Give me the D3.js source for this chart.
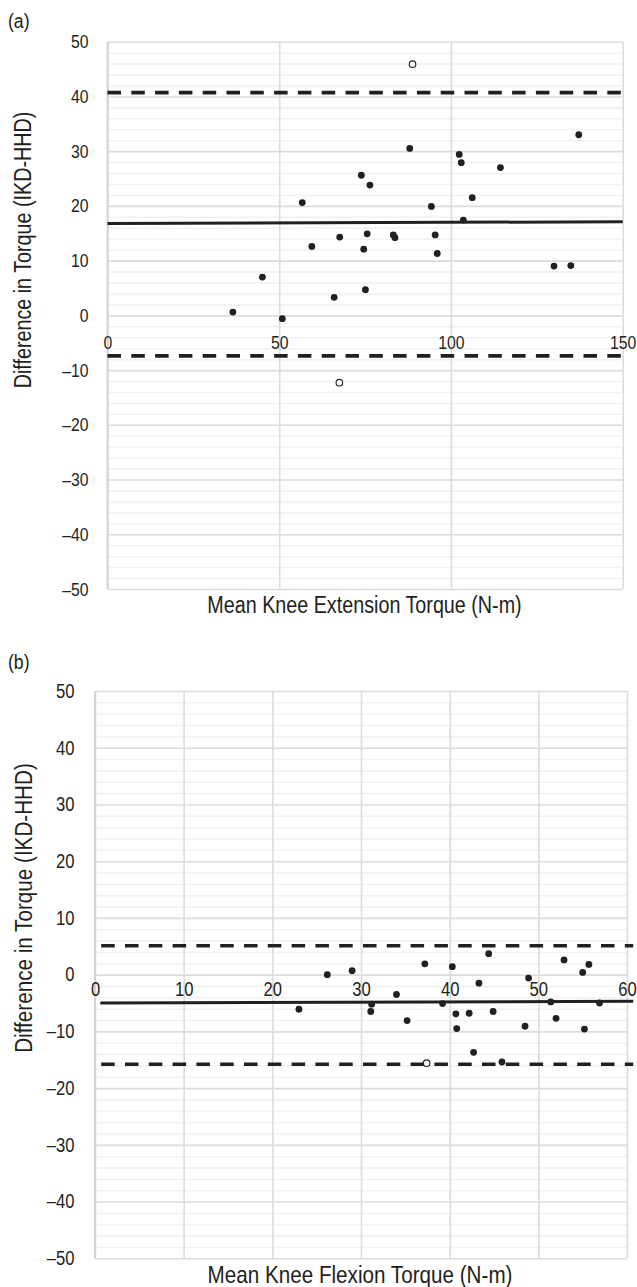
<!DOCTYPE html>
<html>
<head>
<meta charset="utf-8">
<script src="https://cdn.jsdelivr.net/npm/d3@7"></script>
<style>
body { margin: 0; background: #fff; }
</style>
</head>
<body>
<div id="chart"></div>
<script>
var W = 637, H = 1287;
var FONT = "'Liberation Sans', Arial, sans-serif";
var INK = "#231f20";
var NARROW = 0.84;   // the source uses a condensed face; squeeze a regular one

// shared y ticks (difference in torque)
var yTicks = [-50, -40, -30, -20, -10, 0, 10, 20, 30, 40, 50];

// (a) knee extension
var extMean = [36.5, 45.1, 50.9, 56.7, 59.5, 66.0, 67.6, 73.9, 74.6, 75.1, 75.6, 76.4, 83.2,
  83.7, 88.0, 94.3, 95.4, 96.0, 102.4, 103.0, 103.6, 106.2, 114.4, 130.0, 134.9, 137.2];
var extDiff = [0.6, 7.0, -0.6, 20.6, 12.6, 3.3, 14.3, 25.6, 12.1, 4.7, 14.9, 23.8, 14.7,
  14.2, 30.5, 19.9, 14.7, 11.3, 29.4, 27.9, 17.4, 21.5, 27.0, 9.0, 9.1, 33.0];
var extOutMean = [88.8, 67.5];
var extOutDiff = [45.9, -12.3];
var extBiasX = [0, 150];
var extBiasY = [16.8, 17.1];
var extLimits = [40.7, -7.4];
var extXTicks = [0, 50, 100, 150];

// (b) knee flexion
var flexMean = [23.0, 26.2, 29.0, 31.1, 31.2, 34.0, 35.2, 37.2, 39.2, 40.3, 40.7, 40.8, 42.2,
  42.7, 43.3, 44.4, 44.9, 45.9, 48.5, 48.9, 51.4, 52.0, 52.9, 55.0, 55.2, 55.7, 56.9];
var flexDiff = [-6.1, 0.0, 0.7, -6.5, -5.2, -3.5, -8.1, 1.9, -5.1, 1.4, -6.9, -9.5, -6.8,
  -13.7, -1.5, 3.7, -6.5, -15.4, -9.1, -0.6, -4.8, -7.7, 2.6, 0.4, -9.6, 1.8, -5.0];
var flexOutMean = [37.4];
var flexOutDiff = [-15.6];
var flexBiasX = [0.6, 60.7];
var flexBiasY = [-5.0, -4.7];
var flexLimits = [5.1, -15.8];
var flexXTicks = [0, 10, 20, 30, 40, 50, 60];

var svg = d3.select("#chart").append("svg")
  .attr("width", W)
  .attr("height", H)
  .style("font-family", FONT);

var panels = [
  { tag: "(a)", tagY: 28, xDomain: [0, 150], xTicks: extXTicks,
    left: 107.5, right: 622.7, top: 41.7, bottom: 589,
    mean: extMean, diff: extDiff, outMean: extOutMean, outDiff: extOutDiff,
    biasX: extBiasX, biasY: extBiasY, limits: extLimits, limitX: [0, 150],
    tickFont: 18.8, labelFont: 23.5, yPad: 19, xPad: 20,
    xLabel: "Mean Knee Extension Torque (N-m)", xLabelX: 364.5, xLabelY: 613,
    yLabelX: 31, yLabelY: 250 },
  { tag: "(b)", tagY: 669, xDomain: [0, 60], xTicks: flexXTicks,
    left: 95, right: 627, top: 691, bottom: 1258.3,
    mean: flexMean, diff: flexDiff, outMean: flexOutMean, outDiff: flexOutDiff,
    biasX: flexBiasX, biasY: flexBiasY, limits: flexLimits, limitX: [0.7, 60.7],
    tickFont: 19.8, labelFont: 24.6, yPad: 20.5, xPad: 7,
    xLabel: "Mean Knee Flexion Torque (N-m)", xLabelX: 360, xLabelY: 1283,
    yLabelX: 31.5, yLabelY: 908 }
];

panels.forEach(drawPanel);

function fmt(d) {
  return d < 0 ? "\u2013" + (-d) : String(d);
}

// compress axis labels horizontally, keeping their anchor point
function squeeze(texts) {
  texts.each(function() {
    var t = d3.select(this);
    var x0 = +t.attr("x") || 0;
    t.attr("x", x0 / NARROW).attr("transform", "scale(" + NARROW + ",1)");
  });
}

function drawPanel(p) {
  var x = d3.scaleLinear().domain(p.xDomain).range([p.left, p.right]);
  var y = d3.scaleLinear().domain([-50, 50]).range([p.bottom, p.top]);
  var g = svg.append("g");
  var pw = p.right - p.left, ph = p.bottom - p.top;

  // minor horizontal grid
  g.append("g")
    .attr("transform", "translate(" + p.left + ",0)")
    .call(d3.axisLeft(y).tickValues(d3.range(-48, 50, 2).filter(function(d) { return d % 10 !== 0; }))
      .tickSize(-pw).tickFormat(""))
    .call(function(s) {
      s.select(".domain").remove();
      s.selectAll("line").attr("stroke", "#f1f1f1").attr("stroke-width", 1.5);
    });

  // vertical grid
  g.append("g")
    .attr("transform", "translate(0," + p.bottom + ")")
    .call(d3.axisBottom(x).tickValues(p.xTicks).tickSize(-ph).tickFormat(""))
    .call(function(s) {
      s.select(".domain").remove();
      s.selectAll("line").attr("stroke", "#dcdcdc").attr("stroke-width", 1.6);
    });

  // major horizontal grid with labels
  g.append("g")
    .attr("transform", "translate(" + p.left + ",0)")
    .call(d3.axisLeft(y).tickValues(yTicks).tickSize(-pw).tickPadding(p.yPad).tickFormat(fmt))
    .call(function(s) {
      s.select(".domain").remove();
      s.selectAll("line").attr("stroke", "#dcdcdc").attr("stroke-width", 1.6);
      s.selectAll("text").attr("fill", INK).style("font-family", FONT)
        .style("font-size", p.tickFont + "px").call(squeeze);
    });

  // left axis line
  g.append("line")
    .attr("x1", p.left).attr("x2", p.left)
    .attr("y1", p.top).attr("y2", p.bottom)
    .attr("stroke", "#d2d2d2").attr("stroke-width", 1.8);

  // x tick labels sit on the zero line
  g.append("g")
    .attr("transform", "translate(0," + y(0) + ")")
    .call(d3.axisBottom(x).tickValues(p.xTicks).tickSize(0).tickPadding(p.xPad))
    .call(function(s) {
      s.select(".domain").remove();
      s.selectAll("text").attr("fill", INK).style("font-family", FONT)
        .style("font-size", p.tickFont + "px").call(squeeze);
    });

  // points
  g.append("g").selectAll("circle")
    .data(d3.zip(p.mean, p.diff))
    .join("circle")
    .attr("cx", function(d) { return x(d[0]); })
    .attr("cy", function(d) { return y(d[1]); })
    .attr("r", 3.4)
    .attr("fill", INK);

  g.append("g").selectAll("circle")
    .data(d3.zip(p.outMean, p.outDiff))
    .join("circle")
    .attr("cx", function(d) { return x(d[0]); })
    .attr("cy", function(d) { return y(d[1]); })
    .attr("r", 3.3)
    .attr("fill", "#fff")
    .attr("stroke", INK)
    .attr("stroke-width", 1.1);

  // mean difference
  var line = d3.line().x(function(d) { return x(d[0]); }).y(function(d) { return y(d[1]); });
  g.append("path")
    .datum(d3.zip(p.biasX, p.biasY))
    .attr("d", line)
    .attr("fill", "none")
    .attr("stroke", INK)
    .attr("stroke-width", 3);

  // limits of agreement
  g.selectAll(".loa")
    .data(p.limits)
    .join("path")
    .attr("class", "loa")
    .attr("d", function(v) { return line([[p.limitX[0], v], [p.limitX[1], v]]); })
    .attr("fill", "none")
    .attr("stroke", INK)
    .attr("stroke-width", 3.6)
    .attr("stroke-dasharray", "13.5,10.3");

  // titles
  g.append("text")
    .attr("transform", "translate(8," + p.tagY + ") scale(" + NARROW + ",1)")
    .attr("fill", INK)
    .style("font-size", "21px")
    .text(p.tag);

  g.append("text")
    .attr("transform", "translate(" + p.xLabelX + "," + p.xLabelY + ") scale(" + NARROW + ",1)")
    .attr("text-anchor", "middle")
    .attr("fill", INK)
    .style("font-size", p.labelFont + "px")
    .text(p.xLabel);

  g.append("text")
    .attr("transform", "translate(" + p.yLabelX + "," + p.yLabelY + ") rotate(-90) scale(" + NARROW + ",1)")
    .attr("text-anchor", "middle")
    .attr("fill", INK)
    .style("font-size", p.labelFont + "px")
    .text("Difference in Torque (IKD-HHD)");
}
</script>
</body>
</html>
